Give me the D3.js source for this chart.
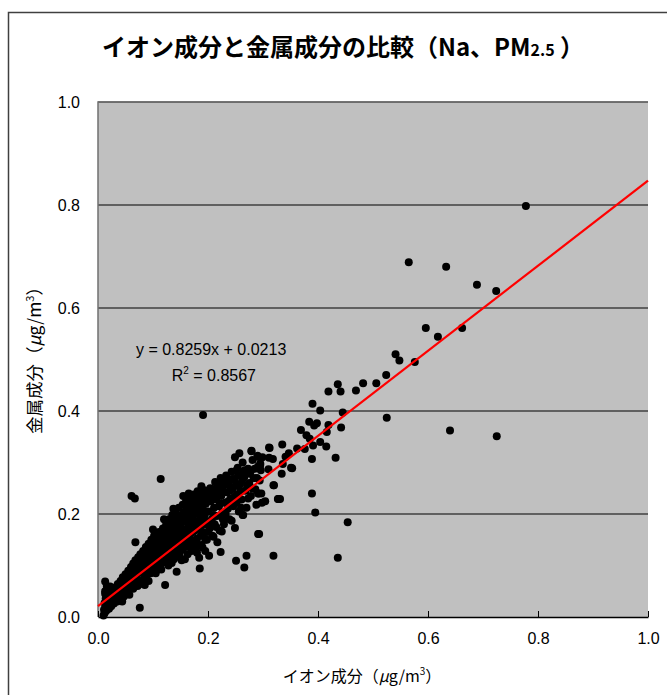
<!DOCTYPE html>
<html>
<head>
<meta charset="utf-8">
<script src="https://cdn.jsdelivr.net/npm/d3@7"></script>
<style>
  body { margin: 0; background: #fff; }
  text { font-family: "Liberation Sans", Arial, sans-serif; fill: #000; }
  .jp { font-family: "Noto Sans CJK JP", "Noto Sans", sans-serif; }
</style>
</head>
<body>
<div id="chart"></div>
<script>
// data: [ion, metal] in ug/m3
const points = [
  [0.012,0.008],[0.013,0.018],[0.012,0.027],[0.014,0.036],[0.013,0.045],[0.015,0.012],[0.016,0.022],[0.015,0.031],
  [0.017,0.040],[0.018,0.052],[0.016,0.060],[0.013,0.069],[0.019,0.028],[0.020,0.016],[0.021,0.037],[0.022,0.046],
  [0.023,0.030],[0.024,0.021],[0.013,0.050],[0.022,0.059],[0.010,0.003],[0.011,0.014],
  [0.026,0.035],[0.027,0.044],[0.028,0.052],[0.029,0.026],[0.031,0.039],[0.032,0.058],[0.033,0.047],[0.035,0.030],
  [0.036,0.064],[0.037,0.041],[0.038,0.052],[0.040,0.036],[0.041,0.070],[0.042,0.058],[0.043,0.046],[0.045,0.077],
  [0.046,0.062],[0.047,0.040],[0.049,0.055],[0.050,0.083],
  [0.052,0.068],[0.053,0.049],[0.055,0.090],[0.056,0.075],[0.058,0.060],[0.060,0.097],[0.061,0.083],[0.062,0.066],
  [0.064,0.104],[0.065,0.088],[0.066,0.072],[0.068,0.110],[0.069,0.094],[0.070,0.079],[0.072,0.060],[0.073,0.116],
  [0.074,0.100],[0.075,0.086],[0.077,0.122],[0.078,0.071],[0.079,0.107],[0.085,0.062],[0.092,0.070],
  [0.081,0.093],[0.082,0.128],[0.083,0.115],[0.085,0.080],[0.086,0.101],[0.087,0.136],[0.088,0.121],[0.090,0.108],
  [0.091,0.088],[0.092,0.142],[0.093,0.127],[0.095,0.114],[0.096,0.097],[0.097,0.150],[0.098,0.133],[0.100,0.120],
  [0.101,0.104],[0.102,0.158],[0.103,0.140],[0.105,0.126],[0.106,0.092],[0.107,0.110],[0.108,0.147],[0.110,0.132],
  [0.111,0.165],[0.112,0.118],[0.113,0.100],[0.115,0.152],[0.116,0.138],[0.117,0.124],[0.118,0.172],[0.119,0.106],
  [0.121,0.145],[0.122,0.160],[0.123,0.130],[0.124,0.180],[0.125,0.113],[0.126,0.152],[0.127,0.168],[0.128,0.138],
  [0.129,0.190],[0.130,0.122],[0.131,0.158],[0.132,0.175],[0.133,0.145],[0.134,0.105],[0.135,0.198],[0.136,0.165],
  [0.137,0.130],[0.138,0.182],[0.139,0.150],[0.140,0.116],[0.141,0.205],[0.142,0.172],[0.143,0.138],[0.144,0.190],
  [0.145,0.156],[0.146,0.125],[0.147,0.212],[0.148,0.178],[0.149,0.145],[0.150,0.197],[0.151,0.163],[0.152,0.110],
  [0.153,0.130],[0.154,0.218],[0.155,0.185],[0.156,0.150],[0.157,0.203],[0.158,0.170],[0.159,0.136],
  [0.160,0.225],[0.161,0.190],[0.162,0.157],[0.163,0.122],[0.164,0.208],[0.165,0.175],[0.166,0.142],[0.167,0.232],
  [0.168,0.196],[0.169,0.162],[0.170,0.128],[0.171,0.214],[0.172,0.181],[0.173,0.148],[0.174,0.238],[0.175,0.202],
  [0.176,0.168],[0.177,0.135],[0.178,0.220],[0.179,0.186],[0.180,0.152],[0.181,0.244],[0.182,0.208],[0.183,0.174],
  [0.184,0.115],[0.185,0.226],[0.186,0.192],[0.187,0.158],[0.188,0.140],[0.189,0.232],[0.190,0.212],[0.191,0.180],
  [0.192,0.163],[0.193,0.246],[0.194,0.198],[0.195,0.128],[0.196,0.220],[0.197,0.186],[0.198,0.150],[0.199,0.236],
  [0.201,0.205],[0.203,0.172],[0.204,0.250],[0.205,0.225],[0.207,0.190],[0.208,0.158],[0.209,0.238],[0.211,0.212],
  [0.212,0.180],[0.213,0.262],[0.215,0.228],[0.216,0.196],[0.217,0.145],[0.219,0.248],[0.220,0.215],[0.221,0.168],
  [0.223,0.270],[0.224,0.235],[0.226,0.202],[0.228,0.255],[0.229,0.180],[0.231,0.222],[0.233,0.275],[0.234,0.242],
  [0.236,0.210],[0.238,0.262],[0.239,0.190],[0.241,0.230],[0.243,0.282],[0.245,0.250],[0.246,0.215],[0.248,0.268],
  [0.252,0.238],[0.254,0.290],[0.256,0.205],[0.258,0.258],[0.261,0.228],[0.263,0.300],[0.266,0.272],[0.268,0.245],
  [0.270,0.212],[0.273,0.288],[0.275,0.260],[0.278,0.235],[0.281,0.305],[0.283,0.270],[0.286,0.248],[0.288,0.218],
  [0.291,0.292],[0.294,0.265],[0.297,0.240],[0.299,0.310],
  // second pass over the dense cloud
  [0.034,0.055],[0.039,0.063],[0.044,0.050],[0.048,0.068],[0.051,0.058],[0.054,0.079],[0.057,0.066],[0.059,0.085],
  [0.063,0.077],[0.067,0.095],[0.071,0.088],[0.071,0.104],[0.076,0.095],[0.080,0.115],[0.084,0.107],[0.089,0.130],
  [0.094,0.120],[0.099,0.140],[0.044,0.030],[0.057,0.043],[0.064,0.055],[0.076,0.064],[0.088,0.075],[0.096,0.085],
  [0.104,0.132],[0.109,0.122],[0.109,0.155],[0.114,0.140],[0.118,0.130],[0.120,0.160],[0.123,0.148],[0.126,0.172],
  [0.129,0.160],[0.131,0.135],[0.134,0.185],[0.136,0.150],[0.139,0.170],[0.141,0.128],[0.143,0.195],[0.146,0.160],
  [0.148,0.190],[0.150,0.175],[0.152,0.140],[0.155,0.200],[0.157,0.160],[0.159,0.185],[0.161,0.210],[0.163,0.170],
  [0.165,0.195],[0.167,0.150],[0.169,0.220],[0.171,0.190],[0.173,0.165],[0.175,0.225],[0.177,0.200],[0.179,0.145],
  [0.181,0.180],[0.183,0.230],[0.185,0.205],[0.187,0.170],[0.189,0.215],[0.191,0.240],[0.193,0.180],[0.195,0.205],
  [0.197,0.230],[0.199,0.165],[0.105,0.085],[0.115,0.092],[0.128,0.100],[0.138,0.112],[0.148,0.120],[0.158,0.112],
  [0.170,0.140],[0.180,0.125],[0.190,0.135],[0.155,0.235],[0.165,0.240],[0.120,0.190],[0.100,0.170],[0.137,0.210],
  [0.202,0.228],[0.206,0.245],[0.210,0.198],[0.214,0.240],[0.218,0.260],[0.222,0.220],[0.226,0.245],[0.230,0.265],
  [0.232,0.200],[0.235,0.258],[0.240,0.245],[0.244,0.268],[0.247,0.232],[0.250,0.255],[0.255,0.275],[0.259,0.245],
  [0.262,0.265],[0.267,0.285],[0.271,0.255],[0.276,0.278],[0.280,0.250],[0.285,0.288],[0.289,0.270],[0.296,0.285],
  [0.205,0.180],[0.215,0.175],[0.227,0.190],[0.237,0.225],[0.252,0.222],[0.260,0.212],
  // scattered ones
  [0.061,0.235],[0.067,0.230],[0.142,0.199],[0.068,0.145],[0.122,0.062],[0.076,0.018],[0.143,0.088],
  [0.191,0.392],[0.114,0.268],[0.188,0.254],[0.257,0.318],[0.249,0.310],[0.279,0.322],[0.290,0.313],[0.295,0.298],
  [0.311,0.329],[0.251,0.284],[0.264,0.282],[0.278,0.284],[0.240,0.266],[0.319,0.256],[0.292,0.240],[0.273,0.230],
  [0.304,0.225],[0.327,0.229],[0.264,0.198],[0.249,0.173],[0.225,0.166],[0.291,0.161],[0.216,0.252],
  [0.293,0.161],[0.319,0.119],[0.270,0.119],[0.251,0.109],[0.266,0.096],[0.223,0.126],[0.185,0.094],[0.202,0.119],
  [0.243,0.187],[0.263,0.198],[0.328,0.229],[0.291,0.240],[0.320,0.256],[0.298,0.222],[0.334,0.278],[0.210,0.156],
  [0.195,0.150],[0.173,0.130],
  [0.506,0.454],[0.482,0.454],[0.469,0.440],[0.436,0.452],[0.441,0.438],[0.419,0.438],[0.390,0.414],[0.404,0.401],
  [0.445,0.397],[0.525,0.387],[0.384,0.379],[0.393,0.372],[0.398,0.376],[0.419,0.373],[0.442,0.368],[0.369,0.363],
  [0.416,0.359],[0.379,0.353],[0.385,0.346],[0.404,0.340],[0.391,0.333],[0.415,0.331],[0.376,0.326],[0.362,0.327],
  [0.335,0.335],[0.312,0.328],[0.347,0.318],[0.341,0.311],[0.432,0.309],[0.389,0.307],[0.311,0.309],[0.318,0.307],
  [0.290,0.311],[0.279,0.323],[0.295,0.295],[0.336,0.297],[0.351,0.290],[0.310,0.287],[0.353,0.289],[0.331,0.229],
  [0.389,0.240],[0.395,0.203],[0.454,0.184],[0.436,0.115],
  [0.541,0.510],[0.548,0.498],[0.576,0.495],[0.524,0.470],
  [0.640,0.362],[0.725,0.351],
  [0.778,0.798],[0.565,0.689],[0.633,0.680],[0.689,0.645],[0.724,0.633],[0.662,0.561],[0.596,0.561],[0.618,0.544]
];
const slope = 0.8259;
const intercept = 0.0213;
const r2 = 0.8567;
const xTicks = [0, 0.2, 0.4, 0.6, 0.8, 1.0];
const yTicks = [0, 0.2, 0.4, 0.6, 0.8, 1.0];

const width = 667;
const height = 695;
const margin = { top: 102, bottom: 78, left: 98, right: 19 };
const innerWidth = width - margin.left - margin.right;
const innerHeight = height - margin.top - margin.bottom;

const svg = d3.select("#chart")
  .append("svg")
  .attr("width", width)
  .attr("height", height);

// outer frame (runs off the right / bottom like the original)
svg.append("path")
  .attr("d", `M8.5,${height} V12.5 H${width}`)
  .attr("fill", "none")
  .attr("stroke", "#404040")
  .attr("stroke-width", 1.5);

// title
const title = svg.append("text")
  .attr("class", "jp")
  .attr("x", 343)
  .attr("y", 56)
  .attr("text-anchor", "middle")
  .attr("font-size", 24)
  .attr("font-weight", "bold");
title.append("tspan").text("イオン成分と金属成分の比較（Na、PM");
title.append("tspan").attr("font-size", 16).text("2.5");
title.append("tspan").text(" ）");

const x = d3.scaleLinear().domain([0, 1]).range([0, innerWidth]);
const y = d3.scaleLinear().domain([0, 1]).range([innerHeight, 0]);

const g = svg.append("g")
  .attr("transform", `translate(${margin.left},${margin.top})`);

// plot area
g.append("rect")
  .attr("width", innerWidth)
  .attr("height", innerHeight)
  .attr("fill", "#c0c0c0");

// gridlines
g.append("g")
  .selectAll("line")
  .data(yTicks.filter((d) => d > 0))
  .join("line")
  .attr("x1", 0)
  .attr("x2", innerWidth)
  .attr("y1", (d) => y(d))
  .attr("y2", (d) => y(d))
  .attr("stroke", "#000")
  .attr("stroke-width", 1);

// plot border
g.append("path")
  .attr("d", `M0,${innerHeight} V0 H${innerWidth}`)
  .attr("fill", "none")
  .attr("stroke", "#707070")
  .attr("stroke-width", 1.5);

// y axis labels
g.append("g")
  .call(d3.axisLeft(y).tickValues(yTicks).tickFormat(d3.format(".1f")).tickSize(0).tickPadding(18))
  .call((a) => {
    a.select(".domain").remove();
    a.selectAll("text")
      .attr("font-size", 16)
      .attr("font-family", "Liberation Sans, Arial, sans-serif")
      .attr("fill", "#000");
  });

// x axis
g.append("g")
  .attr("transform", `translate(0,${innerHeight})`)
  .call(d3.axisBottom(x).tickValues(xTicks).tickFormat(d3.format(".1f")).tickSizeInner(-6).tickSizeOuter(0).tickPadding(16))
  .call((a) => {
    a.select(".domain").attr("stroke", "#000").attr("stroke-width", 1.5);
    a.selectAll("line").attr("stroke", "#000");
    a.selectAll("text")
      .attr("font-size", 16)
      .attr("font-family", "Liberation Sans, Arial, sans-serif")
      .attr("fill", "#000");
  });

// points
g.append("g")
  .selectAll("circle")
  .data(points)
  .join("circle")
  .attr("cx", (d) => x(d[0]))
  .attr("cy", (d) => y(d[1]))
  .attr("r", 4)
  .attr("fill", "#000");

// trend line
g.append("line")
  .attr("x1", x(0))
  .attr("y1", y(intercept))
  .attr("x2", x(1))
  .attr("y2", y(slope + intercept))
  .attr("stroke", "#ff0000")
  .attr("stroke-width", 2.2);

// equation
g.append("text")
  .attr("x", x(0.069))
  .attr("y", y(0.508))
  .attr("font-size", 16)
  .text(`y = ${slope}x + ${intercept}`);
const rt = g.append("text")
  .attr("x", x(0.134))
  .attr("y", y(0.459))
  .attr("font-size", 16);
rt.append("tspan").text("R");
rt.append("tspan").attr("font-size", 10).attr("dy", -7).text("2");
rt.append("tspan").attr("dy", 7).text(` = ${r2}`);

// axis titles
const xt = svg.append("text")
  .attr("class", "jp")
  .attr("x", 362)
  .attr("y", 682)
  .attr("text-anchor", "middle")
  .attr("font-size", 16);
xt.append("tspan").text("イオン成分（");
xt.append("tspan").attr("font-style", "italic").text("μ");
xt.append("tspan").text("g/m");
xt.append("tspan").attr("font-size", 10).attr("dy", -7).text("3");
xt.append("tspan").attr("dy", 7).text("）");

const yt = svg.append("text")
  .attr("class", "jp")
  .attr("transform", "translate(41,356) rotate(-90)")
  .attr("text-anchor", "middle")
  .attr("font-size", 17.5);
yt.append("tspan").text("金属成分（");
yt.append("tspan").attr("font-style", "italic").text("μ");
yt.append("tspan").text("g/m");
yt.append("tspan").attr("font-size", 11).attr("dy", -7).text("3");
yt.append("tspan").attr("dy", 7).text("）");
</script>
</body>
</html>
